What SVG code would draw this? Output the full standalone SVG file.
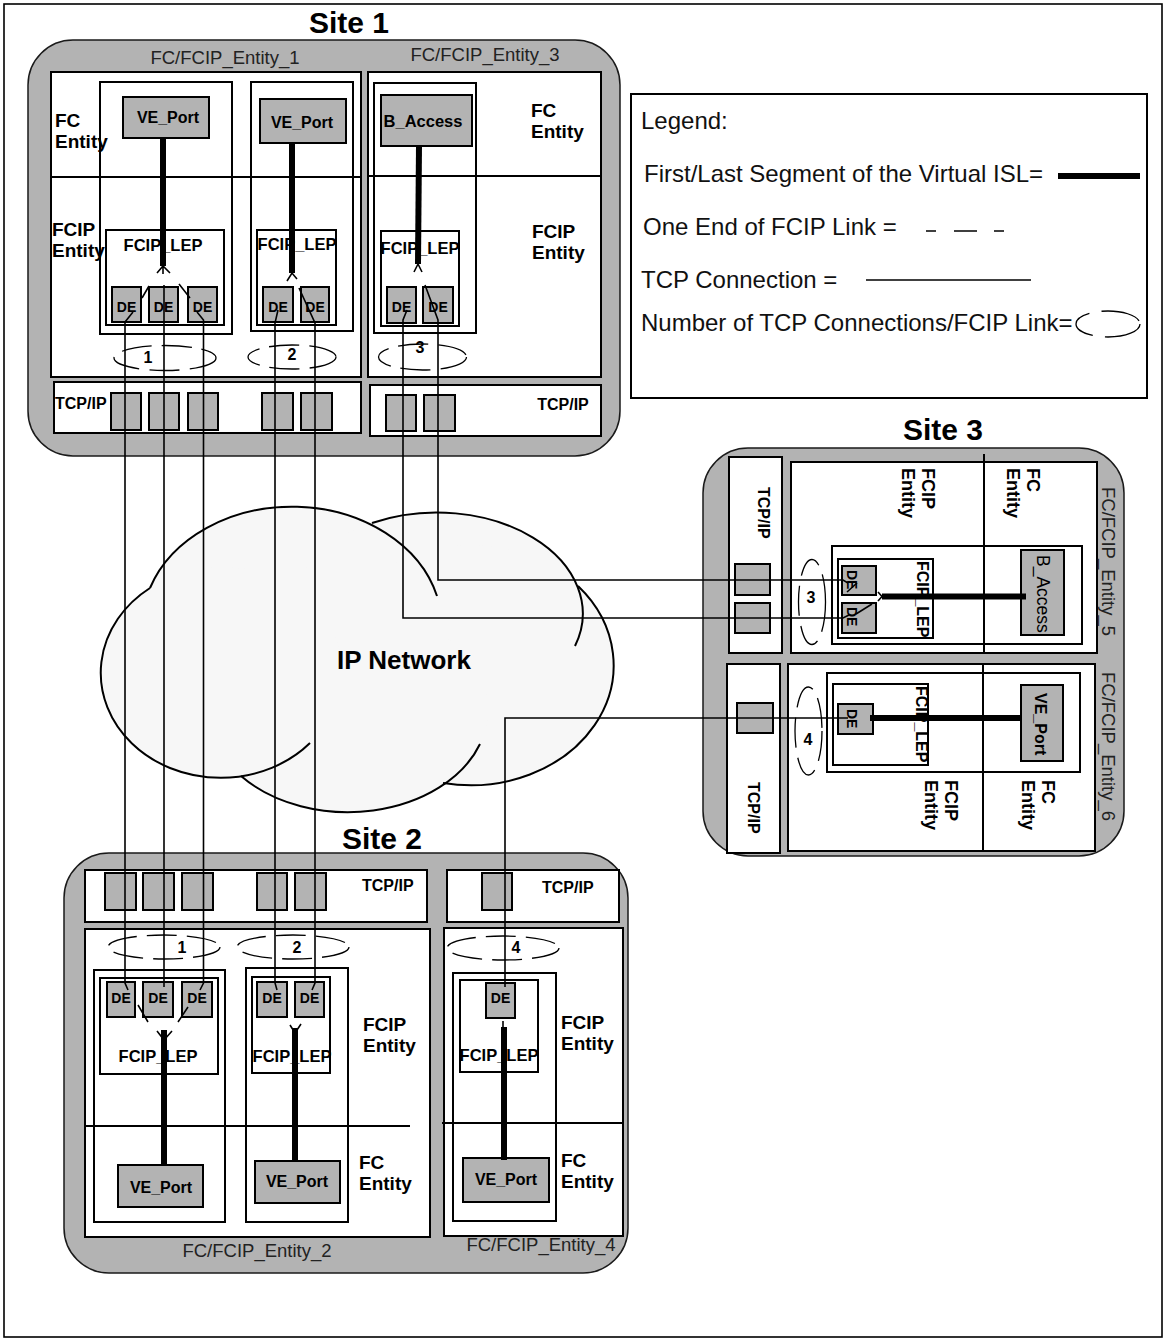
<svg xmlns="http://www.w3.org/2000/svg" width="1164" height="1341" viewBox="0 0 1164 1341">
<defs>
<style>
.site{fill:#b3b3b3;stroke:#1a1a1a;stroke-width:1.5}
.bx{fill:#fff;stroke:#000;stroke-width:2}
.ob{fill:none;stroke:#000;stroke-width:2}
.g{fill:#b3b3b3;stroke:#000;stroke-width:2}
.dv{stroke:#000;stroke-width:2;fill:none}
.el{fill:none;stroke:#000;stroke-width:1.3;stroke-dasharray:30 10}
.tcp{fill:none;stroke:#000;stroke-width:1.6}
.thk{fill:none;stroke:#000;stroke-width:6}
.cl{fill:#f7f7f7;stroke:none}
.cs{fill:none;stroke:#000;stroke-width:2}
.t{font-family:"Liberation Sans",Arial,Helvetica,sans-serif;fill:#000}
.ttl{font-size:30px;font-weight:bold}
.ent{font-size:19px;font-weight:bold}
.ent3{font-size:18px;font-weight:bold}
.lbl{font-size:18.5px;fill:#222}
.ve{font-size:16px;font-weight:bold}
.lep{font-size:16.5px;font-weight:bold}
.de{font-size:14px;font-weight:bold}
.num{font-size:16px;font-weight:bold}
.lg{font-size:24px;fill:#111}
.c{text-anchor:middle}
</style>
</defs>

<rect x="4" y="4" width="1158" height="1333" fill="#fff" stroke="#000" stroke-width="1.6"/>

<!-- Site 1 -->
<g id="site1">
<text class="t ttl c" x="349" y="33">Site 1</text>
<rect class="site" x="28" y="40" width="592" height="416" rx="45"/>
<text class="t lbl c" x="225" y="64">FC/FCIP_Entity_1</text>
<text class="t lbl c" x="485" y="61">FC/FCIP_Entity_3</text>
<g id="fcfcip-entity-1">
<rect class="bx" x="51" y="72" width="310" height="305"/>
<line class="dv" x1="51" y1="177" x2="361" y2="177"/>
<text class="t ent" x="55" y="127">FC<tspan x="55" y="148">Entity</tspan></text>
<text class="t ent" x="52" y="236">FCIP<tspan x="52" y="257">Entity</tspan></text>
<rect class="ob" x="100" y="82" width="132" height="252"/>
<rect class="ob" x="251" y="82" width="102" height="249"/>
<rect class="g" x="123" y="97" width="86" height="41"/>
<text class="t ve c" x="168" y="123">VE_Port</text>
<rect class="g" x="260" y="99" width="86" height="44"/>
<text class="t ve c" x="302" y="128">VE_Port</text>
<rect class="ob" x="106" y="230" width="118" height="95"/>
<text class="t lep c" x="163" y="251">FCIP_LEP</text>
<rect class="ob" x="257" y="230" width="79" height="95"/>
<text class="t lep c" x="297" y="250">FCIP_LEP</text>
<rect class="g" x="112" y="287" width="29" height="35"/>
<rect class="g" x="149" y="287" width="29" height="35"/>
<rect class="g" x="188" y="287" width="29" height="35"/>
<rect class="g" x="263" y="287" width="30" height="35"/>
<rect class="g" x="301" y="287" width="28" height="35"/>
<text class="t de c" x="126.5" y="312">DE</text>
<text class="t de c" x="163.5" y="312">DE</text>
<text class="t de c" x="202.5" y="312">DE</text>
<text class="t de c" x="278" y="312">DE</text>
<text class="t de c" x="315" y="312">DE</text>
<ellipse class="el" cx="165" cy="358" rx="51" ry="12.5"/>
<text class="t num c" x="148" y="363">1</text>
<ellipse class="el" cx="292" cy="357" rx="44" ry="12"/>
<text class="t num c" x="292" y="360">2</text>
<rect class="bx" x="54" y="382" width="307" height="51"/>
<text class="t ve" x="55" y="409">TCP/IP</text>
<rect class="g" x="111" y="393" width="30" height="37"/>
<rect class="g" x="149" y="393" width="30" height="37"/>
<rect class="g" x="188" y="393" width="30" height="37"/>
<rect class="g" x="262" y="393" width="31" height="37"/>
<rect class="g" x="301" y="393" width="31" height="37"/>
</g>
<g id="fcfcip-entity-3">
<rect class="bx" x="368" y="72" width="233" height="305"/>
<line class="dv" x1="368" y1="176" x2="601" y2="176"/>
<text class="t ent" x="531" y="117">FC<tspan x="531" y="138">Entity</tspan></text>
<text class="t ent" x="532" y="238">FCIP<tspan x="532" y="259">Entity</tspan></text>
<rect class="ob" x="374" y="83" width="102" height="250"/>
<rect class="g" x="381" y="95" width="91" height="51"/>
<text class="t lep c" x="423" y="127">B_Access</text>
<rect class="ob" x="381" y="231" width="78" height="95"/>
<text class="t lep c" x="420" y="254">FCIP_LEP</text>
<rect class="g" x="387" y="287" width="29" height="36"/>
<rect class="g" x="423" y="287" width="30" height="36"/>
<text class="t de c" x="401.5" y="312">DE</text>
<text class="t de c" x="438" y="312">DE</text>
<ellipse class="el" cx="422.5" cy="357" rx="44" ry="13"/>
<text class="t num c" x="420" y="353">3</text>
<rect class="bx" x="370" y="385" width="231" height="51"/>
<text class="t ve c" x="563" y="410">TCP/IP</text>
<rect class="g" x="386" y="395" width="30" height="36"/>
<rect class="g" x="424" y="395" width="31" height="36"/>
</g>
</g>

<!-- Legend -->
<g id="legend">
<rect class="bx" x="631" y="94" width="516" height="304"/>
<text class="t lg" x="641" y="129">Legend:</text>
<text class="t lg" x="644" y="182">First/Last Segment of the Virtual ISL=</text>
<line class="thk" x1="1058" y1="176" x2="1140" y2="176"/>
<text class="t lg" x="643" y="235">One End of FCIP Link =</text>
<path class="tcp" d="M926,231 H936 M954,231 H977 M994,231 H1004"/>
<text class="t lg" x="641" y="288">TCP Connection =</text>
<line class="tcp" x1="866" y1="280" x2="1031" y2="280"/>
<text class="t lg" x="641" y="331">Number of TCP Connections/FCIP Link=</text>
<ellipse cx="1108" cy="324" rx="32" ry="13" fill="none" stroke="#000" stroke-width="1.3" stroke-dasharray="40 12"/>
</g>

<!-- IP Network cloud -->
<g id="ip-network">
<ellipse class="cl" cx="292" cy="627" rx="150" ry="120"/>
<ellipse class="cl" cx="437" cy="613" rx="146" ry="101"/>
<ellipse class="cl" cx="470" cy="665" rx="143" ry="120"/>
<ellipse class="cl" cx="348" cy="710" rx="140" ry="102"/>
<ellipse class="cl" cx="222" cy="672" rx="120" ry="105"/>
<path class="cs" d="M150,588 A120,105 0 1,0 310,743"/>
<path class="cs" d="M150,588 A150,120 0 0,1 437,596"/>
<path class="cs" d="M372,523 A146,101 0 0,1 575,646"/>
<path class="cs" d="M578,586 A143,120 0 0,1 443,783"/>
<path class="cs" d="M480,744 A140,102 0 0,1 241,776"/>
<text class="t" x="337" y="669" font-size="26" font-weight="bold">IP Network</text>
</g>

<!-- Site 2 -->
<g id="site2">
<text class="t ttl c" x="382" y="849">Site 2</text>
<rect class="site" x="64" y="853" width="564" height="420" rx="45"/>
<g id="fcfcip-entity-2">
<rect class="bx" x="85" y="870" width="342" height="52"/>
<text class="t ve" x="362" y="891">TCP/IP</text>
<rect class="g" x="105" y="873" width="31" height="37"/>
<rect class="g" x="143" y="873" width="31" height="37"/>
<rect class="g" x="182" y="873" width="31" height="37"/>
<rect class="g" x="257" y="873" width="30" height="37"/>
<rect class="g" x="295" y="873" width="31" height="37"/>
<rect class="bx" x="85" y="929" width="345" height="308"/>
<line class="dv" x1="86" y1="1126" x2="410" y2="1126"/>
<ellipse class="el" cx="164" cy="947" rx="56" ry="12"/>
<text class="t num c" x="182" y="953">1</text>
<ellipse class="el" cx="293" cy="947" rx="56" ry="12"/>
<text class="t num c" x="297" y="953">2</text>
<rect class="ob" x="94" y="970" width="131" height="252"/>
<rect class="ob" x="246" y="968" width="102" height="254"/>
<rect class="ob" x="100" y="978" width="118" height="96"/>
<rect class="ob" x="252" y="977" width="78" height="96"/>
<rect class="g" x="107" y="982" width="28" height="35"/>
<rect class="g" x="143" y="982" width="30" height="35"/>
<rect class="g" x="182" y="982" width="30" height="35"/>
<rect class="g" x="257" y="982" width="30" height="35"/>
<rect class="g" x="295" y="982" width="29" height="35"/>
<text class="t de c" x="121" y="1003">DE</text>
<text class="t de c" x="158" y="1003">DE</text>
<text class="t de c" x="197" y="1003">DE</text>
<text class="t de c" x="272" y="1003">DE</text>
<text class="t de c" x="309.5" y="1003">DE</text>
<text class="t lep c" x="158" y="1062">FCIP_LEP</text>
<text class="t lep c" x="292" y="1062">FCIP_LEP</text>
<rect class="g" x="118" y="1165" width="85" height="42"/>
<text class="t ve c" x="161" y="1193">VE_Port</text>
<rect class="g" x="255" y="1161" width="85" height="42"/>
<text class="t ve c" x="297" y="1187">VE_Port</text>
<text class="t ent" x="363" y="1031">FCIP<tspan x="363" y="1052">Entity</tspan></text>
<text class="t ent" x="359" y="1169">FC<tspan x="359" y="1190">Entity</tspan></text>
<text class="t lbl c" x="257" y="1257">FC/FCIP_Entity_2</text>
</g>
<g id="fcfcip-entity-4">
<rect class="bx" x="447" y="870" width="172" height="52"/>
<text class="t ve" x="542" y="893">TCP/IP</text>
<rect class="g" x="482" y="873" width="30" height="37"/>
<rect class="bx" x="444" y="928" width="179" height="308"/>
<line class="dv" x1="442" y1="1123" x2="623" y2="1123"/>
<ellipse class="el" cx="503" cy="948" rx="56" ry="12"/>
<text class="t num c" x="516" y="953">4</text>
<rect class="ob" x="453" y="973" width="103" height="248"/>
<rect class="ob" x="460" y="980" width="78" height="92"/>
<rect class="g" x="486" y="983" width="29" height="35"/>
<text class="t de c" x="500.5" y="1003">DE</text>
<text class="t lep c" x="499" y="1061">FCIP_LEP</text>
<rect class="g" x="463" y="1158" width="86" height="44"/>
<text class="t ve c" x="506" y="1185">VE_Port</text>
<text class="t ent" x="561" y="1029">FCIP<tspan x="561" y="1050">Entity</tspan></text>
<text class="t ent" x="561" y="1167">FC<tspan x="561" y="1188">Entity</tspan></text>
<text class="t lbl c" x="541" y="1251">FC/FCIP_Entity_4</text>
</g>
</g>

<!-- Site 3 -->
<g id="site3">
<text class="t ttl c" x="943" y="440">Site 3</text>
<rect class="site" x="703" y="448" width="421" height="408" rx="45"/>
<g id="fcfcip-entity-5">
<rect class="bx" x="729" y="457" width="53" height="196"/>
<text class="t ve" transform="translate(758,487) rotate(90)">TCP/IP</text>
<rect class="g" x="735" y="564" width="35" height="31"/>
<rect class="g" x="735" y="603" width="35" height="30"/>
<rect class="bx" x="791" y="462" width="306" height="191"/>
<line class="dv" x1="984" y1="454" x2="984" y2="652"/>
<text class="t ent3" transform="translate(922,468) rotate(90)">FCIP<tspan x="0" dy="20">Entity</tspan></text>
<text class="t ent3" transform="translate(1027,468) rotate(90)">FC<tspan x="0" dy="20">Entity</tspan></text>
<rect class="ob" x="832" y="546" width="250" height="98"/>
<rect class="ob" x="838" y="559" width="95" height="79"/>
<text class="t ve" transform="translate(917,561) rotate(90)">FCIP_LEP</text>
<rect class="g" x="842" y="566" width="34" height="29"/>
<rect class="g" x="842" y="603" width="34" height="30"/>
<text class="t de" transform="translate(847,570) rotate(90)">DE</text>
<text class="t de" transform="translate(847,607) rotate(90)">DE</text>
<rect class="g" x="1021" y="550" width="43" height="85"/>
<text class="t" font-size="17.5" transform="translate(1037,555) rotate(90)">B_Access</text>
<ellipse class="el" cx="812" cy="602" rx="13.5" ry="42.5"/>
<text class="t num c" x="811" y="603">3</text>
<text class="t lbl" transform="translate(1102,487) rotate(90)">FC/FCIP_Entity_5</text>
</g>
<g id="fcfcip-entity-6">
<rect class="bx" x="727" y="664" width="53" height="189"/>
<text class="t ve" transform="translate(748,782) rotate(90)">TCP/IP</text>
<rect class="g" x="737" y="703" width="36" height="30"/>
<rect class="bx" x="788" y="664" width="307" height="187"/>
<line class="dv" x1="983" y1="664" x2="983" y2="851"/>
<rect class="ob" x="827" y="673" width="253" height="99"/>
<rect class="ob" x="833" y="684" width="95" height="81"/>
<text class="t ve" transform="translate(916,686) rotate(90)">FCIP_LEP</text>
<rect class="g" x="838" y="704" width="35" height="30"/>
<text class="t de" transform="translate(847,709) rotate(90)">DE</text>
<rect class="g" x="1021" y="685" width="42" height="76"/>
<text class="t ve" transform="translate(1035,693) rotate(90)">VE_Port</text>
<ellipse class="el" cx="808.5" cy="731" rx="13.5" ry="44"/>
<text class="t num c" x="808" y="745">4</text>
<text class="t ent3" transform="translate(945,780) rotate(90)">FCIP<tspan x="0" dy="20">Entity</tspan></text>
<text class="t ent3" transform="translate(1042,780) rotate(90)">FC<tspan x="0" dy="20">Entity</tspan></text>
<text class="t lbl" transform="translate(1102,672) rotate(90)">FC/FCIP_Entity_6</text>
</g>
</g>

<!-- Connectors -->
<g id="connectors">
<path class="tcp" d="M133,312 L125,322 V983 L128,990"/>
<path class="tcp" d="M164,285 V987"/>
<path class="tcp" d="M197,312 L203.5,320 V983 L200,990"/>
<path class="tcp" d="M278,310 L275,323 V983 L277,990"/>
<path class="tcp" d="M299,288 L315,323 V983 L312,990"/>
<path class="tcp" d="M407,310 L403,320 V618 H843 L849,615"/>
<path class="tcp" d="M425,285 L438,320 V580 H843 L848,583"/>
<path class="tcp" d="M505,987 V718 H848"/>
<path class="tcp" d="M142,298 L149,286 M179,284 L190,298"/>
<path class="tcp" d="M138,1005 L148,1022 M188,1007 L178,1022"/>
<path class="tcp" d="M847,592 L857,583 M856,614 L872,604"/>
<path class="tcp" d="M157,273 L163,266 L170,273 M163,266 V274"/>
<path class="tcp" d="M287,281 L292,273 L297,279"/>
<path class="tcp" d="M414,272 L418,264 L422,272"/>
<path class="tcp" d="M157,1031 L164,1040 L172,1031"/>
<path class="tcp" d="M290,1025 L295,1033 L301,1024"/>
<path class="tcp" d="M878,592 L882,596.5 L878,601"/>
<path class="tcp" d="M503,1021 V1027"/>
<path class="thk" d="M163,138 V266"/>
<path class="thk" d="M292,143 V273"/>
<path class="thk" d="M419,146 L418,264"/>
<path class="thk" d="M164,1030 V1166"/>
<path class="thk" d="M295,1028 V1162"/>
<path class="thk" d="M504,1027 V1160"/>
<path class="thk" d="M882,596.5 H1026"/>
<path class="thk" d="M870,718 H1022"/>
</g>
</svg>
